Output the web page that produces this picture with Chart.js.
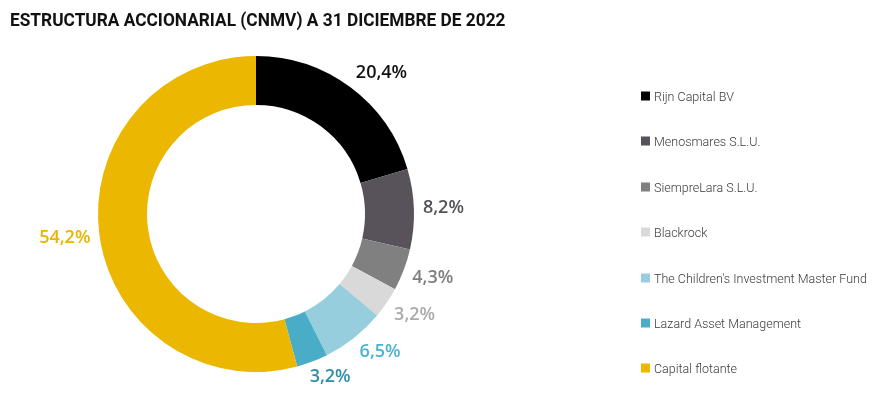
<!DOCTYPE html>
<html>
<head>
<meta charset="utf-8">
<script src="https://cdn.jsdelivr.net/npm/chart.js@4.4.0/dist/chart.umd.min.js"></script>
<style>
  html, body { margin: 0; padding: 0; background: #fff; }
  #wrap { position: relative; width: 891px; height: 413px; overflow: hidden; }
  #title {
    position: absolute; left: 10px; top: 8px; margin: 0;
    font-family: "Roboto", sans-serif;
    font-weight: bold; font-size: 19px; color: #111; white-space: nowrap;
    transform: scaleX(0.91); transform-origin: left center;
  }
  #legend { position: absolute; left: 641px; top: 0; }
  .item {
    position: absolute; left: 0; display: flex; align-items: center; white-space: nowrap;
    font-family: "Roboto", sans-serif; font-weight: 300; font-size: 12.5px; color: #3a3a3a;
    transform: translateY(-50%);
  }
  .box { width: 9px; height: 9px; margin-right: 4px; }
</style>
</head>
<body>
<div id="wrap">
  <canvas id="donut" width="891" height="413"></canvas>
  <div id="title">ESTRUCTURA ACCIONARIAL (CNMV) A 31 DICIEMBRE DE 2022</div>
  <div id="legend"></div>
</div>
<script>
// Accionistas y participaciones (%)
const holders = [
    'Rijn Capital BV',
    'Menosmares S.L.U.',
    'SiempreLara S.L.U.',
    'Blackrock',
    "The Children's Investment Master Fund",
    'Lazard Asset Management',
    'Capital flotante'
];
const shares = [20.4, 8.2, 4.3, 3.2, 6.5, 3.2, 54.2];
const sliceColors = ['#000000', '#58535a', '#808080', '#d9d9d9', '#96cedd', '#4aadc7', '#ebb700'];
const labelColors = ['#111111', '#55525a', '#7f7f7f', '#ababab', '#4db3d1', '#2e8eaa', '#e9b400'];

// leyenda a la derecha
const legend = document.getElementById('legend');
holders.forEach((name, i) => {
    const row = document.createElement('div');
    row.className = 'item';
    row.style.top = (96 + i * 45.4) + 'px';
    row.innerHTML = '<span class="box" style="background:' + sliceColors[i] + '"></span><span>' + name + '</span>';
    legend.appendChild(row);
});

// etiquetas de porcentaje fuera del anillo
const outsideLabels = {
    id: 'outsideLabels',
    afterDatasetsDraw(chart) {
        const ctx = chart.ctx;
        const meta = chart.getDatasetMeta(0);
        ctx.save();
        ctx.font = '600 18px "Open Sans", sans-serif';
        ctx.textAlign = 'center';
        ctx.textBaseline = 'middle';
        meta.data.forEach((arc, i) => {
            const mid = (arc.startAngle + arc.endAngle) / 2;
            const ux = Math.cos(mid), uy = Math.sin(mid);
            const r = arc.outerRadius + 9;
            const text = shares[i].toFixed(1).replace('.', ',') + '%';
            const w = ctx.measureText(text).width;
            const h = 14;
            const kx = Math.max(-1, Math.min(1, ux * 2));
            const ky = Math.max(-1, Math.min(1, uy * 2));
            const x = arc.x + ux * r + kx * w / 2;
            const y = arc.y + uy * r + ky * h / 2;
            ctx.fillStyle = labelColors[i];
            ctx.fillText(text, x, y);
        });
        ctx.restore();
    }
};

const chart = new Chart(document.getElementById('donut').getContext('2d'), {
    type: 'doughnut',
    data: {
        labels: holders,
        datasets: [{
            data: shares,
            backgroundColor: sliceColors,
            borderWidth: 0
        }]
    },
    options: {
        responsive: false,
        animation: false,
        cutout: '69%',
        layout: { padding: { left: 98, right: 477, top: 56, bottom: 41 } },
        plugins: {
            legend: { display: false },
            title: { display: false },
            tooltip: { enabled: false }
        }
    },
    plugins: [outsideLabels]
});
</script>
</body>
</html>
